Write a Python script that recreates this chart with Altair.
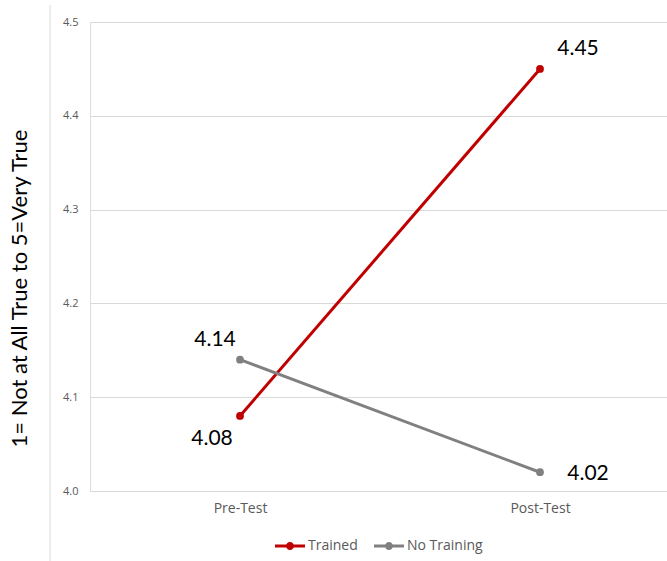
import altair as alt
import pandas as pd

tests = ["Pre-Test", "Post-Test"]
series = ["Trained", "No Training"]
trained = [4.08, 4.45]
no_training = [4.14, 4.02]
colors = ["#C00000", "#808080"]

rows = []
for t, v in zip(tests, trained):
    rows.append({"test": t, "series": "Trained", "value": v})
for t, v in zip(tests, no_training):
    rows.append({"test": t, "series": "No Training", "value": v})
df = pd.DataFrame(rows)

FONT = "Lato"
AXFONT = "Open Sans"

xscale = alt.Scale(type="point", range=[0, 600], padding=0.5)
yscale = alt.Scale(domain=[4.0, 4.5], zero=False, nice=False)

x = alt.X("test:N", sort=tests, title=None, scale=xscale,
          axis=alt.Axis(labelAngle=0, labelColor="#595959", labelFontSize=14,
                        labelFont=AXFONT, domain=False, ticks=False, grid=False,
                        labelPadding=10))
y = alt.Y("value:Q", title="1= Not at All True to 5=Very True", scale=yscale,
          axis=alt.Axis(values=[4.0, 4.1, 4.2, 4.3, 4.4, 4.5], format=".1f",
                        labelColor="#595959", labelFontSize=11, labelFont=AXFONT,
                        labelPadding=12, domain=False, ticks=False,
                        gridColor="#D9D9D9", gridWidth=1,
                        titleFont=FONT, titleFontSize=22, titleFontWeight="normal",
                        titleColor="#000000", titleX=-71, titleY=266,
                        titleAngle=270, titleAlign="center", titleBaseline="middle"))
color = alt.Color("series:N", sort=series,
                  scale=alt.Scale(domain=series, range=colors),
                  legend=alt.Legend(title=None, orient="none", direction="horizontal",
                                    legendX=185, legendY=509,
                                    labelFont=AXFONT, labelFontSize=14, labelColor="#595959",
                                    symbolType="M-1,-0.1H1V0.1H-1Z M-0.27,0A0.27,0.27 0 1,1 0.27,0A0.27,0.27 0 1,1 -0.27,0Z",
                                    symbolSize=900, symbolStrokeWidth=0,
                                    columnPadding=16, labelOffset=3))

base = alt.Chart(df)
lines = base.mark_line(strokeWidth=3).encode(x=x, y=y, color=color)
points = base.mark_point(filled=True, size=60, opacity=1).encode(
    x=x, y=y, color=alt.Color("series:N", sort=series,
                              scale=alt.Scale(domain=series, range=colors), legend=None))

def label(test, ser, dx, dy):
    return base.transform_filter(
        (alt.datum.test == test) & (alt.datum.series == ser)
    ).mark_text(font=FONT, fontSize=21, color="#000000", dx=dx, dy=dy).encode(
        x=alt.X("test:N", sort=tests, scale=xscale),
        y=alt.Y("value:Q", scale=yscale),
        text=alt.Text("value:Q", format=".2f"))

labels = (label("Post-Test", "Trained", 38, -20)
          + label("Post-Test", "No Training", 48, 2)
          + label("Pre-Test", "No Training", -25, -20)
          + label("Pre-Test", "Trained", -28, 23))

vline = alt.Chart(pd.DataFrame({"a": [0]})).mark_rule(color="#D9D9D9", strokeWidth=1).encode(
    x=alt.value(-40), y=alt.value(-17), y2=alt.value(539))

chart = alt.layer(vline, lines, points, labels).properties(
    width=577, height=469,
    autosize=alt.AutoSizeParams(type="none"),
    padding={"left": 90, "top": 22, "right": 0, "bottom": 70},
).configure_view(stroke=None).configure(background="white")

chart.save("out.html", embed_options={"renderer": "svg", "actions": False})
